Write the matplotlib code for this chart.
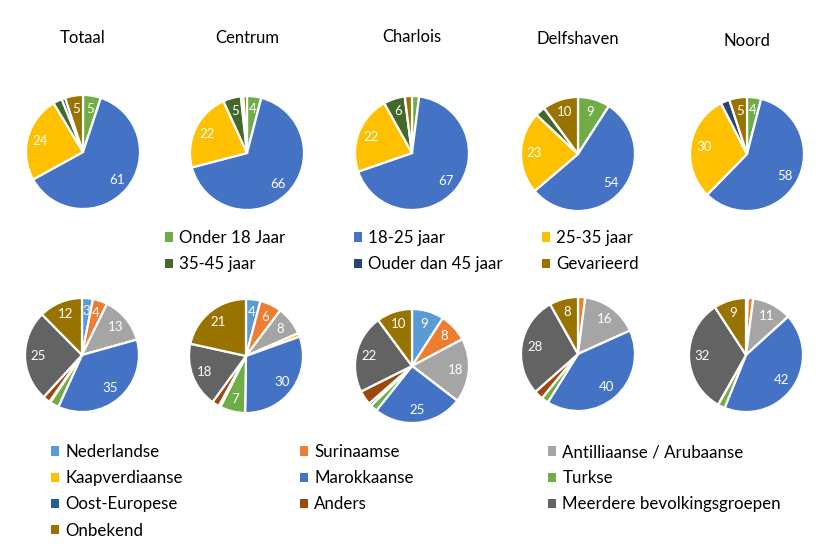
import matplotlib.pyplot as plt
from matplotlib.patches import Patch

plt.rcParams['font.family'] = ['Lato', 'DejaVu Sans']

districts = ["Totaal", "Centrum", "Charlois", "Delfshaven", "Noord"]

# leeftijd (top row)
age_names = ["Onder 18 Jaar", "18-25 jaar", "25-35 jaar",
             "35-45 jaar", "Ouder dan 45 jaar", "Gevarieerd"]
age_colors = ["#70AD47", "#4472C4", "#FFC000", "#43682B", "#264478", "#997300"]
age_totaal = [5, 61, 24, 2.5, 1, 5]
age_centrum = [4, 66, 22, 5, 0.7, 1]
age_charlois = [2, 67, 22, 6, 0, 2]
age_delfshaven = [9, 54, 23, 2.8, 0, 10]
age_noord = [4, 58, 30, 0, 2.5, 5]

# bevolkingsgroep (bottom row)
grp_names = ["Nederlandse", "Surinaamse", "Antilliaanse / Arubaanse",
             "Kaapverdiaanse", "Marokkaanse", "Turkse", "Oost-Europese",
             "Anders", "Meerdere bevolkingsgroepen", "Onbekend"]
grp_colors = ["#5B9BD5", "#ED7D31", "#A5A5A5", "#FFC000", "#4472C4",
              "#70AD47", "#255E91", "#9E480E", "#636363", "#997300"]
grp_totaal = [3, 4, 13, 0, 35, 2.5, 0.3, 2, 25, 12]
grp_centrum = [4, 6, 8, 1, 30, 7, 0.5, 2, 18, 21]
grp_charlois = [9, 8, 18, 0, 25, 2, 0.8, 4, 22, 10]
grp_delfshaven = [0, 2, 16, 0, 40, 2, 0, 2.5, 28, 8]
grp_noord = [0.5, 1.5, 11, 0, 42, 2, 0, 0, 32, 9]

hidden = {"Ouder dan 45 jaar", "Anders"}

W, H = 822, 550
fig = plt.figure(figsize=(W / 100, H / 100), dpi=100)


def draw_pie(values, names, colors, cx, cy, r=57):
    ax = fig.add_axes([(cx - r) / W, (H - cy - r) / H, 2 * r / W, 2 * r / H])
    wedges, texts, autotexts = ax.pie(
        values, colors=colors, startangle=90, counterclock=False,
        autopct="%d", pctdistance=0.77,
        wedgeprops=dict(edgecolor="white", linewidth=1.6),
        textprops=dict(color="white", fontsize=9.5))
    for t, v, n in zip(autotexts, values, names):
        if v >= 3 and n not in hidden:
            t.set_text(f"{v:.0f}")
        else:
            t.set_text("")
    ax.set_xlim(-1, 1)
    ax.set_ylim(-1, 1)
    ax.set_aspect("equal")
    return ax


top_centers = [(83, 152), (247, 153), (412, 153), (578, 154), (747, 154)]
bottom_centers = [(82, 355), (246, 356), (412, 366), (578, 354), (746, 355)]
title_y = [38, 38, 37, 39, 41]

age_rows = [age_totaal, age_centrum, age_charlois, age_delfshaven, age_noord]
grp_rows = [grp_totaal, grp_centrum, grp_charlois, grp_delfshaven, grp_noord]

for name, vals, (cx, cy), ty in zip(districts, age_rows, top_centers, title_y):
    draw_pie(vals, age_names, age_colors, cx, cy)
    fig.text(cx / W, 1 - ty / H, name, ha="center", va="center", fontsize=12)

for vals, (cx, cy) in zip(grp_rows, bottom_centers):
    draw_pie(vals, grp_names, grp_colors, cx, cy)


def legend_column(idx, names, colors, x, y):
    handles = [Patch(facecolor=colors[i], edgecolor="none") for i in idx]
    labels = [names[i] for i in idx]
    fig.legend(handles, labels, loc="upper left",
               bbox_to_anchor=(x / W, 1 - y / H), frameon=False,
               fontsize=12.2, borderpad=0, borderaxespad=0,
               handlelength=0.45, handleheight=0.45, handletextpad=0.4,
               labelspacing=0.6)


legend_column([0, 3], age_names, age_colors, 165, 230)
legend_column([1, 4], age_names, age_colors, 354, 230)
legend_column([2, 5], age_names, age_colors, 542, 230)

legend_column([0, 3, 6, 9], grp_names, grp_colors, 51, 444)
legend_column([1, 4, 7], grp_names, grp_colors, 300, 444)
legend_column([2, 5, 8], grp_names, grp_colors, 548, 444)

fig.savefig("out.png", dpi=100)
